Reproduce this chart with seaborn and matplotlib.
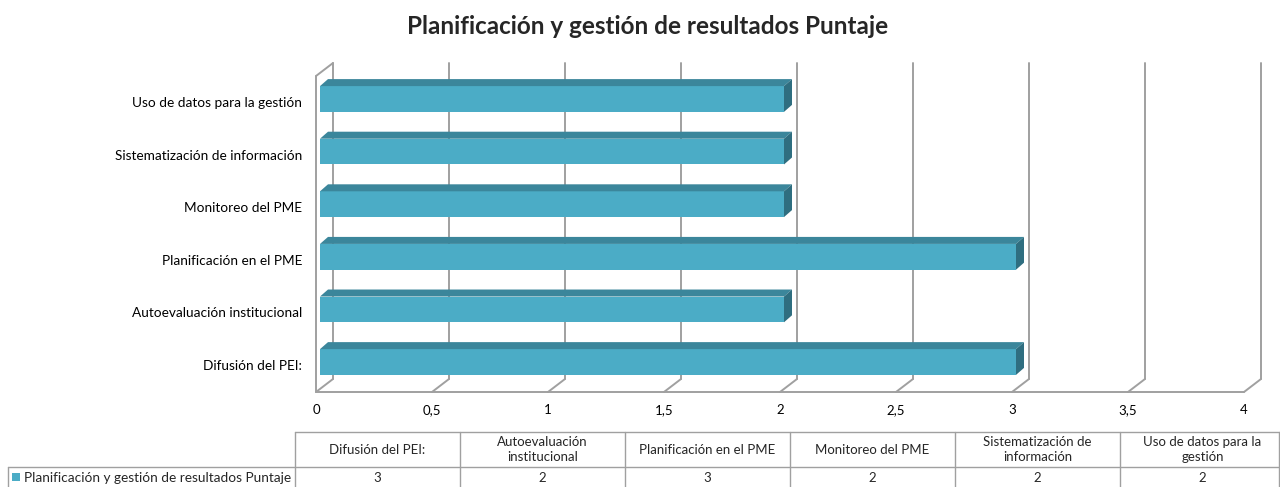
import numpy as np
import pandas as pd
import seaborn as sns
import matplotlib.pyplot as plt
from matplotlib.patches import Polygon, Rectangle

# datos
categorias = ['Difusión del PEI:', 'Autoevaluación institucional', 'Planificación en el PME',
              'Monitoreo del PME', 'Sistematización de información', 'Uso de datos para la gestión']
encabezados_tabla = ['Difusión del PEI:', 'Autoevaluación\ninstitucional', 'Planificación en el PME',
                     'Monitoreo del PME', 'Sistematización de\ninformación', 'Uso de datos para la\ngestión']
puntaje = [3, 2, 3, 2, 2, 2]
serie = 'Planificación y gestión de resultados Puntaje'
titulo = 'Planificación y gestión de resultados Puntaje'

df = pd.DataFrame({'categoria': categorias, 'puntaje': puntaje})

sns.set_theme(style='white')
plt.rcParams['font.family'] = ['Lato', 'DejaVu Sans']

W, H = 1280, 487
fig = plt.figure(figsize=(W / 100, H / 100), dpi=100)

# eje: plano frontal de 0 a 4 entre x=316 y x=1244 px
ax = fig.add_axes([316 / W, 1 - 392 / H, 928 / W, 316 / H])

frente = '#4BACC6'
arriba = '#3B869B'
lado = '#2F6E80'
gris = '#A0A0A0'

orden = categorias[::-1]
sns.barplot(data=df, y='categoria', x='puntaje', order=orden, orient='h',
            color=frente, saturation=1, width=0.49, ax=ax, zorder=3)

ax.set_xlim(0, 4)
ax.set_ylim(5.513, -0.494)

# profundidad de las barras y del fondo (en unidades de datos)
dx, dy = 8 / 232, 7 / 52.6
dxb, dyb = 17 / 232, 13 / 52.6
# las barras van un poco hacia el fondo
ox, oy = 4 / 232, 3 / 52.6

for p in list(ax.patches):
    p.set_x(p.get_x() + ox)
    p.set_y(p.get_y() - oy)
    x0, y0 = p.get_x(), p.get_y()
    w, h = p.get_width(), p.get_height()
    p.set_edgecolor('none')
    ax.add_patch(Polygon([(x0, y0), (x0 + w, y0), (x0 + w + dx, y0 - dy), (x0 + dx, y0 - dy)],
                         closed=True, facecolor=arriba, edgecolor='none', zorder=3))
    ax.add_patch(Polygon([(x0 + w, y0), (x0 + w, y0 + h), (x0 + w + dx, y0 + h - dy), (x0 + w + dx, y0 - dy)],
                         closed=True, facecolor=lado, edgecolor='none', zorder=3))

# rejilla en el plano de fondo y suelo
ybot, ytop = 5.513, -0.494
ticks = np.arange(0, 4.01, 0.5)
for t in ticks:
    ax.plot([t + dxb, t + dxb], [ybot - dyb, ytop - dyb], color=gris, lw=1.4, clip_on=False, zorder=1)
    ax.plot([t, t + dxb], [ybot, ybot - dyb], color=gris, lw=1.4, clip_on=False, zorder=1)
ax.plot([0, 4], [ybot, ybot], color=gris, lw=1.4, clip_on=False, zorder=1)
ax.plot([0, 0], [ybot, ytop], color=gris, lw=1.4, clip_on=False, zorder=1)
ax.plot([0, dxb], [ytop, ytop - dyb], color=gris, lw=1.4, clip_on=False, zorder=1)

ax.set_xticks(ticks)
ax.set_xticklabels([('%g' % t).replace('.', ',') for t in ticks], fontsize=9.5, color='black')
ax.set_yticklabels(orden, fontsize=9.8, color='black')
ax.tick_params(length=0)
ax.tick_params(axis='x', pad=9)
ax.tick_params(axis='y', pad=10)
ax.set_xlabel('')
ax.set_ylabel('')
for s in ax.spines.values():
    s.set_visible(False)

fig.text(648 / W, 1 - 27 / H, titulo, ha='center', va='center', fontsize=17.5, fontweight='bold')

# tabla de datos
tax = fig.add_axes([0, 0, 1, 1])
tax.set_xlim(0, W)
tax.set_ylim(H, 0)
tax.axis('off')
x_inicio, ancho = 295, 165
y1, y2, y3 = 432, 467, 487
n = len(categorias)
tax.plot([x_inicio, W], [y1, y1], color=gris, lw=1)
tax.plot([8, W], [y2, y2], color=gris, lw=1)
tax.plot([8, 8], [y2, y3], color=gris, lw=1)
for i in range(n + 1):
    xi = min(x_inicio + i * ancho, W - 1)
    tax.plot([xi, xi], [y1, y3], color=gris, lw=1)
for i, (enc, v) in enumerate(zip(encabezados_tabla, puntaje)):
    xc = x_inicio + (i + 0.5) * ancho
    tax.text(xc, (y1 + y2) / 2, enc, ha='center', va='center', fontsize=9.5, linespacing=1.25)
    tax.text(xc, (y2 + y3) / 2 + 1, str(v), ha='center', va='center', fontsize=9.5)
tax.add_patch(Rectangle((12, 473), 8, 8, facecolor=frente, edgecolor='none'))
tax.text(24, (y2 + y3) / 2 + 1, serie, ha='left', va='center', fontsize=9.8)

fig.savefig('out.png', dpi=100)
